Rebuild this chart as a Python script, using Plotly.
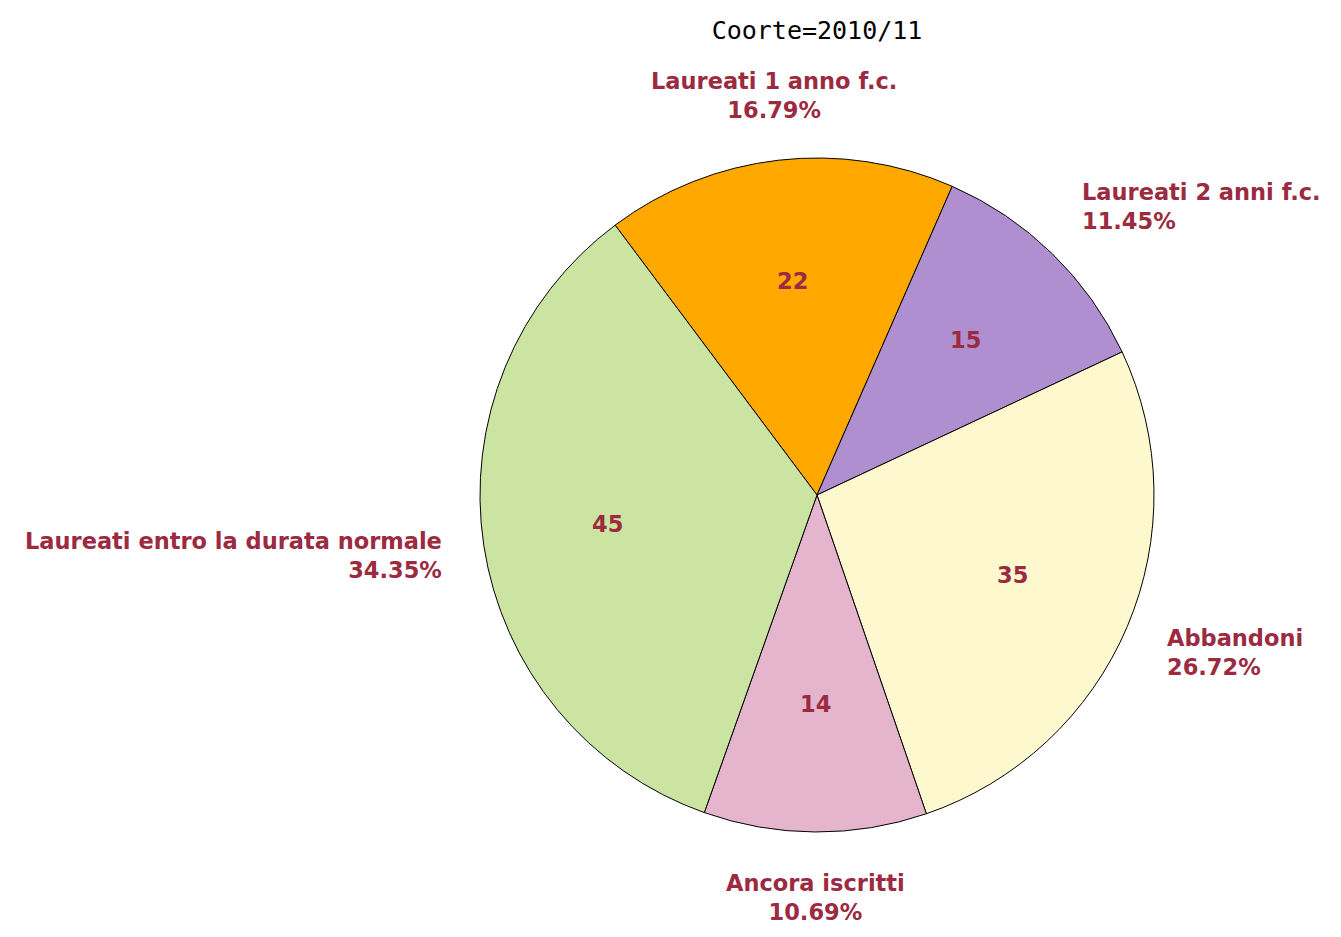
"""Coorte 2010/11 - torta esiti"""

import math
import plotly.graph_objects as go

LABELS = [
    "Laureati 1 anno f.c.",
    "Laureati 2 anni f.c.",
    "Abbandoni",
    "Ancora iscritti",
    "Laureati entro la durata normale",
]
VALUES = [22, 15, 35, 14, 45]
COLORS = ["#FFA800", "#B08FD0", "#FEF8CF", "#E5B5CD", "#CCE4A1"]
TITLE = "Coorte=2010/11"

TEXT_COLOR = "#9C2A40"
_FONT = dict(family="DejaVu Sans, Verdana, sans-serif", size=22.5, color=TEXT_COLOR, weight="bold")

W, H = 1341, 937
CX, CY, R = 809, 487, 337   # pie centre / radius in px (page has 8px body margin)
ROT = -36.8                 # start angle of the first slice
R_LAB = 1.12                # outside label radius, in pie radii
R_VAL = 0.63                # inside value radius, in pie radii

fig = go.Figure()

# fette
fig.add_trace(go.Pie(
    labels=LABELS, values=VALUES,
    sort=False, direction="clockwise", rotation=ROT,
    marker=dict(colors=COLORS, line=dict(color="black", width=1)),
    textinfo="none",
    domain=dict(
        x=[(CX - R) / W, (CX + R) / W],
        y=[1 - (CY + R) / H, 1 - (CY - R) / H],
    ),
    showlegend=False, hoverinfo="skip",
))

# etichette: valore dentro, nome + percentuale fuori, sull'angolo medio della fetta
total = sum(VALUES)
cum = 0
for lab, v in zip(LABELS, VALUES):
    mid = math.radians(ROT + (cum + v / 2) / total * 360)
    cum += v
    s, c = math.sin(mid), math.cos(mid)

    fig.add_annotation(
        text=str(v),
        x=(CX + R * R_VAL * s) / W, y=1 - (CY - R * R_VAL * c) / H,
        xref="paper", yref="paper", xanchor="center", yanchor="middle",
        yshift=3,
        showarrow=False, font=_FONT,
    )

    xa = "left" if s > 0.25 else ("right" if s < -0.25 else "center")
    fig.add_annotation(
        text=f"{lab}<br>{v / total:.2%}",
        x=(CX + R * R_LAB * s) / W, y=1 - (CY - R * R_LAB * c) / H,
        xref="paper", yref="paper",
        xanchor=xa, yanchor="middle", align=xa, yshift=c * 25,
        showarrow=False, font=_FONT,
    )

fig.update_layout(
    width=W, height=H,
    margin=dict(t=0, b=0, l=0, r=0),
    paper_bgcolor="white",
    plot_bgcolor="white",
    title=dict(
        text=TITLE,
        x=CX / W, xanchor="center",
        y=1 - 22 / H, yanchor="middle",
        font=dict(family="DejaVu Sans Mono", size=25, color="black"),
    ),
)

fig.write_html("out.html")
